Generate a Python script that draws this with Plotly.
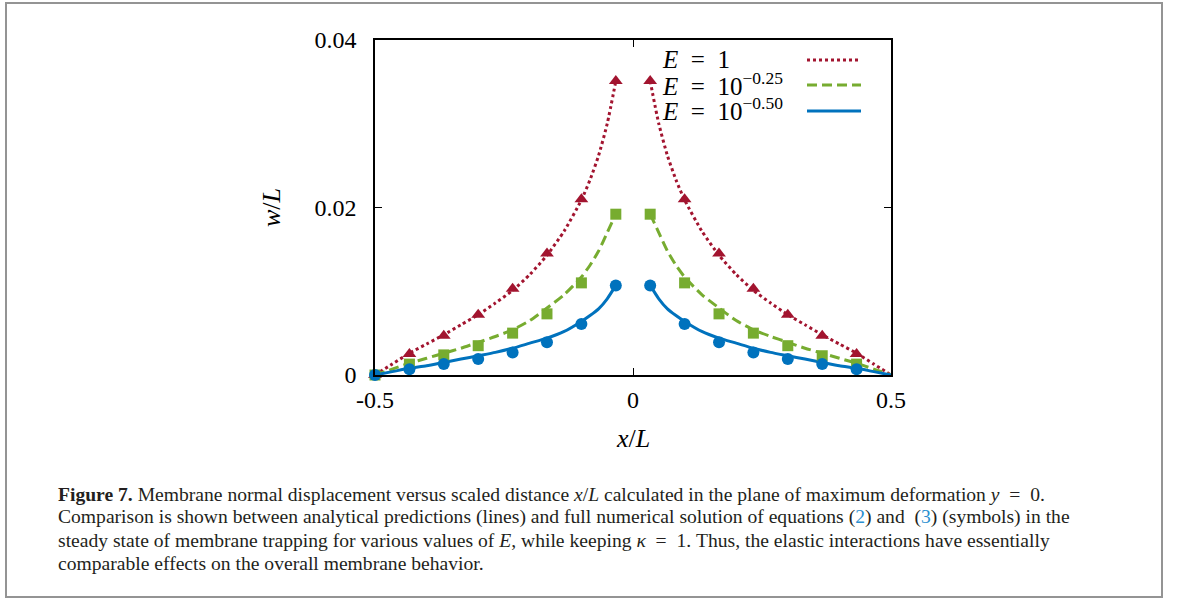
import plotly.graph_objects as go

# ---------------- data ----------------
# symbols (numerical solution)
x_sym_left = [-0.5, -0.4333, -0.3667, -0.3, -0.2333, -0.1667, -0.1, -0.0333]
x_sym_right = [0.0333, 0.1, 0.1667, 0.2333, 0.3, 0.3667, 0.4333]

red_sym_left = [0.0, 0.0025, 0.0047, 0.0072, 0.0103, 0.0145, 0.0210, 0.0351]
red_sym_right = [0.0351, 0.0210, 0.0145, 0.0103, 0.0072, 0.0047, 0.0025]
green_sym_left = [0.0, 0.0013, 0.0024, 0.0035, 0.0050, 0.0073, 0.0110, 0.0192]
green_sym_right = [0.0192, 0.0110, 0.0073, 0.0050, 0.0035, 0.0023, 0.0013]
blue_sym_left = [0.0, 0.0007, 0.0013, 0.0019, 0.0027, 0.0039, 0.0061, 0.0107]
blue_sym_right = [0.0107, 0.0061, 0.0039, 0.0027, 0.0019, 0.0013, 0.0007]

# analytical predictions (lines)
x_line_left = [-0.5, -0.4667, -0.4333, -0.4, -0.3667, -0.3333, -0.3, -0.2667, -0.2333,
               -0.2, -0.1667, -0.1333, -0.1, -0.0833, -0.0667, -0.05, -0.0333]
x_line_right = [0.0333, 0.05, 0.0667, 0.0833, 0.1, 0.1333, 0.1667, 0.2, 0.2333,
                0.2667, 0.3, 0.3333, 0.3667, 0.4, 0.4333, 0.4667, 0.5]

red_line_left = [0.0, 0.0013, 0.0026, 0.0037, 0.0048, 0.0060, 0.0072, 0.0086, 0.0101,
                 0.0120, 0.0143, 0.0172, 0.0209, 0.0233, 0.0262, 0.0300, 0.0351]
red_line_right = [0.0351, 0.0300, 0.0262, 0.0233, 0.0209, 0.0172, 0.0143, 0.0120, 0.0101,
                  0.0086, 0.0072, 0.0060, 0.0048, 0.0037, 0.0026, 0.0013, 0.0]
green_line_left = [0.0, 0.0007, 0.0014, 0.0020, 0.0026, 0.0032, 0.0039, 0.0046, 0.0054,
                   0.0065, 0.0080, 0.0096, 0.0117, 0.0131, 0.0148, 0.0170, 0.0192]
green_line_right = [0.0192, 0.0170, 0.0148, 0.0131, 0.0117, 0.0096, 0.0080, 0.0065, 0.0054,
                    0.0046, 0.0039, 0.0032, 0.0026, 0.0020, 0.0014, 0.0007, 0.0]
blue_line_left = [0.0, 0.0004, 0.0008, 0.0011, 0.0015, 0.0019, 0.0023, 0.0027, 0.0032,
                  0.0038, 0.0044, 0.0052, 0.0064, 0.0071, 0.0079, 0.0091, 0.0107]
blue_line_right = [0.0107, 0.0091, 0.0079, 0.0071, 0.0064, 0.0052, 0.0044, 0.0038, 0.0032,
                   0.0027, 0.0023, 0.0019, 0.0015, 0.0011, 0.0008, 0.0004, 0.0]

series_labels = ["<i>E</i>\u2002=\u20021",
                 "<i>E</i>\u2002=\u200210<sup>−0.25</sup>",
                 "<i>E</i>\u2002=\u200210<sup>−0.50</sup>"]

x_tickvals = [-0.5, 0, 0.5]
x_ticktext = ["-0.5", "0", "0.5"]
y_tickvals = [0, 0.02, 0.04]
y_ticktext = ["0", "0.02", "0.04"]

caption_lines = [
    "<b>Figure 7.</b> Membrane normal displacement versus scaled distance <i>x</i>/<i>L</i> calculated in the plane of maximum deformation <i>y</i>\u2002=\u20020.",
    "Comparison is shown between analytical predictions (lines) and full numerical solution of equations (<span style='color:#2a8fd0'>2</span>) and  (<span style='color:#2a8fd0'>3</span>) (symbols) in the",
    "steady state of membrane trapping for various values of <i>E</i>, while keeping <i>κ</i>\u2002=\u20021. Thus, the elastic interactions have essentially",
    "comparable effects on the overall membrane behavior.",
]

RED = "#a2142f"
GREEN = "#77ac30"
BLUE = "#0072bd"
FONT = "Liberation Serif, Times New Roman, serif"

fig = go.Figure()

line_specs = [
    (red_line_left, red_line_right, RED, "dot"),
    (green_line_left, green_line_right, GREEN, "10px,5px"),
    (blue_line_left, blue_line_right, BLUE, "solid"),
]
for yl, yr, c, d in line_specs:
    for xs, ys in ((x_line_left, yl), (x_line_right, yr)):
        fig.add_trace(go.Scatter(x=xs, y=ys, mode="lines",
                                 line=dict(color=c, width=3, dash=d, shape="spline", smoothing=0.6),
                                 showlegend=False, cliponaxis=False, hoverinfo="skip"))

sym_specs = [
    (red_sym_left, red_sym_right, RED, "triangle-up", 12),
    (green_sym_left, green_sym_right, GREEN, "square", 11),
    (blue_sym_left, blue_sym_right, BLUE, "circle", 12),
]
for yl, yr, c, s, sz in sym_specs:
    fig.add_trace(go.Scatter(x=x_sym_left + x_sym_right, y=yl + yr, mode="markers",
                             marker=dict(color=c, symbol=s, size=sz, line=dict(width=0)),
                             showlegend=False, cliponaxis=False))

W, H = 1179, 601
L, R, T, B = 375, 288, 40, 226
pw, ph = W - L - R, H - T - B


def px(x):
    return (x - L) / pw


def py(y):
    return (H - B - y) / ph


annotations = []
shapes = []
# legend (text left, line sample right)
legend_rows = [(60, 67, RED, "dot"), (85, 94, GREEN, "10px,5px"), (111, 119, BLUE, "solid")]
for i, (yy, base, c, d) in enumerate(legend_rows):
    annotations.append(dict(x=px(660), y=py(base + 8), xref="paper", yref="paper", xanchor="left", yanchor="bottom",
                            text=series_labels[i], showarrow=False,
                            font=dict(family=FONT, size=25, color="black")))
    shapes.append(dict(type="line", xref="paper", yref="paper", x0=px(807), x1=px(861), y0=py(yy), y1=py(yy),
                       line=dict(color=c, width=3, dash=d)))

# axis titles
annotations.append(dict(x=px(271), y=py(208), xref="paper", yref="paper", xanchor="center", yanchor="middle",
                        text="<i>w</i>/<i>L</i>", textangle=-90,
                        showarrow=False, font=dict(family=FONT, size=26, color="black")))
annotations.append(dict(x=px(633), y=py(438), xref="paper", yref="paper", xanchor="center", yanchor="middle",
                        text="<i>x</i>/<i>L</i>",
                        showarrow=False, font=dict(family=FONT, size=26, color="black")))

# caption
for i, t in enumerate(caption_lines):
    annotations.append(dict(x=px(56), y=py(494 + 23 * i), xref="paper", yref="paper", xanchor="left",
                            yanchor="middle", text=t, showarrow=False,
                            font=dict(family=FONT, size=19.6, color="#231f20")))

# outer frame
shapes.append(dict(type="rect", xref="paper", yref="paper", x0=px(6), x1=px(1162), y0=py(597), y1=py(3),
                   line=dict(color="#949494", width=2), layer="below"))

axis_common = dict(ticks="inside", ticklen=7, tickcolor="black", showline=True, linecolor="black",
                   linewidth=1.5, mirror="allticks", showgrid=False, zeroline=False,
                   tickfont=dict(family=FONT, size=24, color="black"))

fig.update_layout(
    width=W, height=H, margin=dict(l=L, r=R, t=T, b=B),
    paper_bgcolor="white", plot_bgcolor="white",
    font=dict(family=FONT, color="black"),
    annotations=annotations, shapes=shapes, showlegend=False,
    xaxis=dict(range=[-0.5, 0.5], tickvals=x_tickvals, ticktext=x_ticktext, ticklabelstandoff=2, **axis_common),
    yaxis=dict(range=[0, 0.04], tickvals=y_tickvals, ticktext=y_ticktext, ticklabelstandoff=12, **axis_common),
)

fig.write_html("out.html")
